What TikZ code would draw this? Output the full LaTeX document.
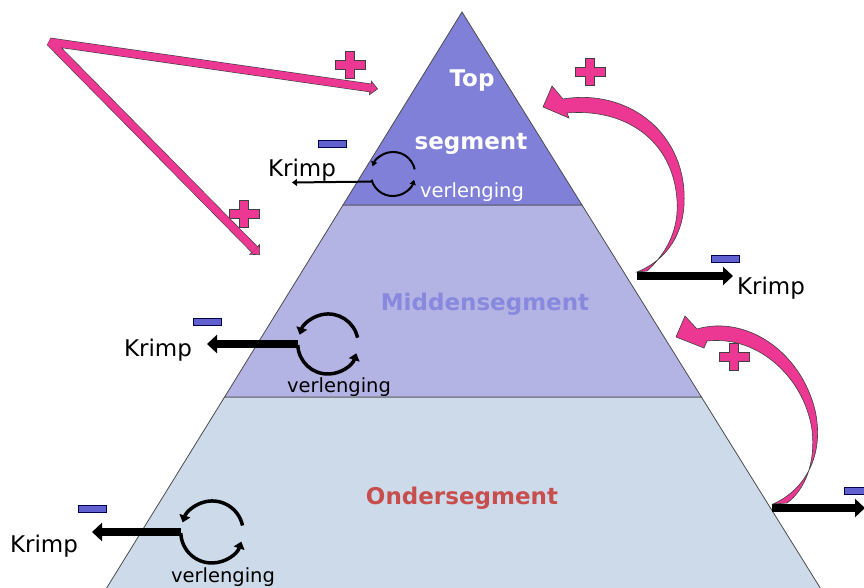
\documentclass[tikz,border=0pt]{standalone}
\usepackage{fontspec}
\setmainfont{DejaVu Sans}
\usetikzlibrary{arrows.meta,calc}
\definecolor{topblue}{RGB}{128,128,216}
\definecolor{midblue}{RGB}{180,180,228}
\definecolor{lowblue}{RGB}{205,218,233}
\definecolor{plusPink}{RGB}{236,56,146}
\definecolor{minBlue}{RGB}{96,96,206}
\definecolor{midText}{RGB}{136,136,222}
\definecolor{lowText}{RGB}{200,78,78}
\tikzset{
    layer/.style={draw=black!70, line width=0.8pt},
    segtext/.style={font=\fontsize{23}{26}\selectfont\bfseries, inner sep=0pt, anchor=base},
    krimptext/.style={font=\fontsize{23}{26}\selectfont, inner sep=0pt, anchor=base},
    verltext/.style={font=\fontsize{19.5}{22}\selectfont, inner sep=0pt, anchor=base}
}
\tikzset{
    minsign/.style={rectangle, fill=minBlue, draw=blue!30!black, line width=0.6pt,
        minimum width=28pt, minimum height=7pt, inner sep=0pt},
    cycle/.style={circle, draw=none, inner sep=0pt},
    krimparrow/.style={line width=8pt, -{Triangle[length=10pt,width=18pt]}},
    thinarrow/.style={line width=2pt, -{Triangle[length=5pt,width=7pt]}},
    cyclearc/.style={line width=3.5pt, -{Triangle[length=7pt,width=11pt]}},
    pinkband/.style={draw=black!75, line width=0.6pt, double=plusPink, double distance=7.5pt,
        line join=bevel},
    pinktip/.style={draw=black!75, line width=0.6pt, -{Triangle[length=8pt,width=15pt,fill=plusPink]}},
    bentarrow/.style={fill=plusPink, draw=black!75, line width=0.6pt},
    plussign/.pic={\draw[fill=plusPink, draw=black!75, line width=0.6pt]
        (-4.5,-13.5) -- (4.5,-13.5) -- (4.5,-4.5) -- (15,-4.5) -- (15,4.5) -- (4.5,4.5)
        -- (4.5,13.5) -- (-4.5,13.5) -- (-4.5,4.5) -- (-15,4.5) -- (-15,-4.5) -- (-4.5,-4.5) -- cycle;}
}

\begin{document}
\begin{tikzpicture}[x=1pt,y=-1pt]
	\clip (0,0) rectangle (864,588);
	\fill[white] (0,0) rectangle (864,588);

	\draw[layer, fill=lowblue] (224.6,397) -- (701.4,397) -- (827.7,600) -- (99.2,600) -- cycle;
	\draw[layer, fill=midblue] (343,205) -- (582,205) -- (701.4,397) -- (224.6,397) -- cycle;
	\draw[layer, fill=topblue] (462,12) -- (582,205) -- (343,205) -- cycle;

	\node (top) [segtext, white] at (472,87) {Top};
	\node (segm) [segtext, white] at (471,150) {segment};
	\node (midden) [segtext, midText] at (485,310) {Middensegment};
	\node (onder) [segtext, lowText] at (462,504) {Ondersegment};

	\node (cycTop) [cycle, minimum size=44pt] at (393,174) {};
	\node (cycMid) [cycle, minimum size=60pt] at (328,344) {};
	\node (cycLow) [cycle, minimum size=62pt] at (212,532) {};

	\node (verlTop) [verltext, white] at (472,197) {verlenging};
	\node (verlMid) [verltext] at (339,392) {verlenging};
	\node (verlLow) [verltext] at (223,582) {verlenging};

	\node (krimpTop) [krimptext] at (302,177) {Krimp};
	\node (krimpMid) [krimptext] at (158,356) {Krimp};
	\node (krimpLow) [krimptext] at (44,552) {Krimp};
	\node (krimpRight) [krimptext] at (771,294) {Krimp};

	\node (minTop) [minsign] at (332,143.5) {};
	\node (minMid) [minsign] at (207,322) {};
	\node (minLow) [minsign] at (92.5,508.5) {};
	\node (minRight) [minsign] at (725.5,258.5) {};
	\node (minEdge) [minsign] at (858,491) {};

	\pic at (350,65) {plussign};
	\pic at (244,214) {plussign};
	\pic at (590,72) {plussign};
	\pic at (734,357) {plussign};

	\draw[line width=2pt, -{Triangle[length=5pt,width=6pt]}] (cycTop.12) arc[start angle=12, end angle=160, radius=22pt];
	\draw[line width=2pt, -{Triangle[length=5pt,width=6pt]}] (cycTop.195) arc[start angle=195, end angle=345, radius=22pt];
	\draw[cyclearc] (cycMid.12) arc[start angle=12, end angle=162, radius=30pt];
	\draw[cyclearc] (cycMid.182) arc[start angle=182, end angle=342, radius=30pt];
	\draw[cyclearc] (cycLow.12) arc[start angle=12, end angle=162, radius=31pt];
	\draw[cyclearc] (cycLow.182) arc[start angle=182, end angle=342, radius=31pt];

	\coordinate (tipTop) at (292,182.5);
	\coordinate (tipMid) at (207,344);
	\coordinate (tipLow) at (92,532);
	\draw[thinarrow] (cycTop.200) -- (tipTop);
	\draw[krimparrow] (cycMid.west) -- (tipMid);
	\draw[krimparrow] (cycLow.west) -- (tipLow);

	\coordinate (edgeTop) at (637,276);
	\coordinate (tipRight) at (733,276);
	\coordinate (edgeLow) at (772,508);
	\coordinate (tipEdge) at (865,508);
	\draw[krimparrow] (edgeTop) -- (tipRight);
	\draw[krimparrow] (edgeLow) -- (tipEdge);

	\coordinate (corner) at (50,42);
	\coordinate (tipLong) at (378,89);
	\coordinate (tipShort) at (260,255);
	\draw[pinktip] ($(tipLong)!9pt!(corner)$) -- (tipLong);
	\draw[pinktip] ($(tipShort)!9pt!(corner)$) -- (tipShort);
	\draw[pinkband, shorten <=7pt, shorten >=7pt] (tipLong) -- (corner) -- (tipShort);

	\draw[bentarrow] (543,107) -- (552,86) -- (563,99)
		.. controls (630,88) and (688,135) .. (684,205)
		.. controls (682,240) and (662,262) .. (637,272)
		-- (647,271) .. controls (668,252) and (679,228) .. (677,200)
		.. controls (673,140) and (625,108) .. (567,113) -- (569,118) -- cycle;
	\draw[bentarrow] (676,337) -- (685,316) -- (697,329)
		.. controls (745,315) and (800,350) .. (815,410)
		.. controls (825,455) and (805,490) .. (773,504)
		-- (787,503) .. controls (805,490) and (816,462) .. (812,430)
		.. controls (805,380) and (760,335) .. (707,341) -- (704,348) -- cycle;
\end{tikzpicture}
\end{document}
